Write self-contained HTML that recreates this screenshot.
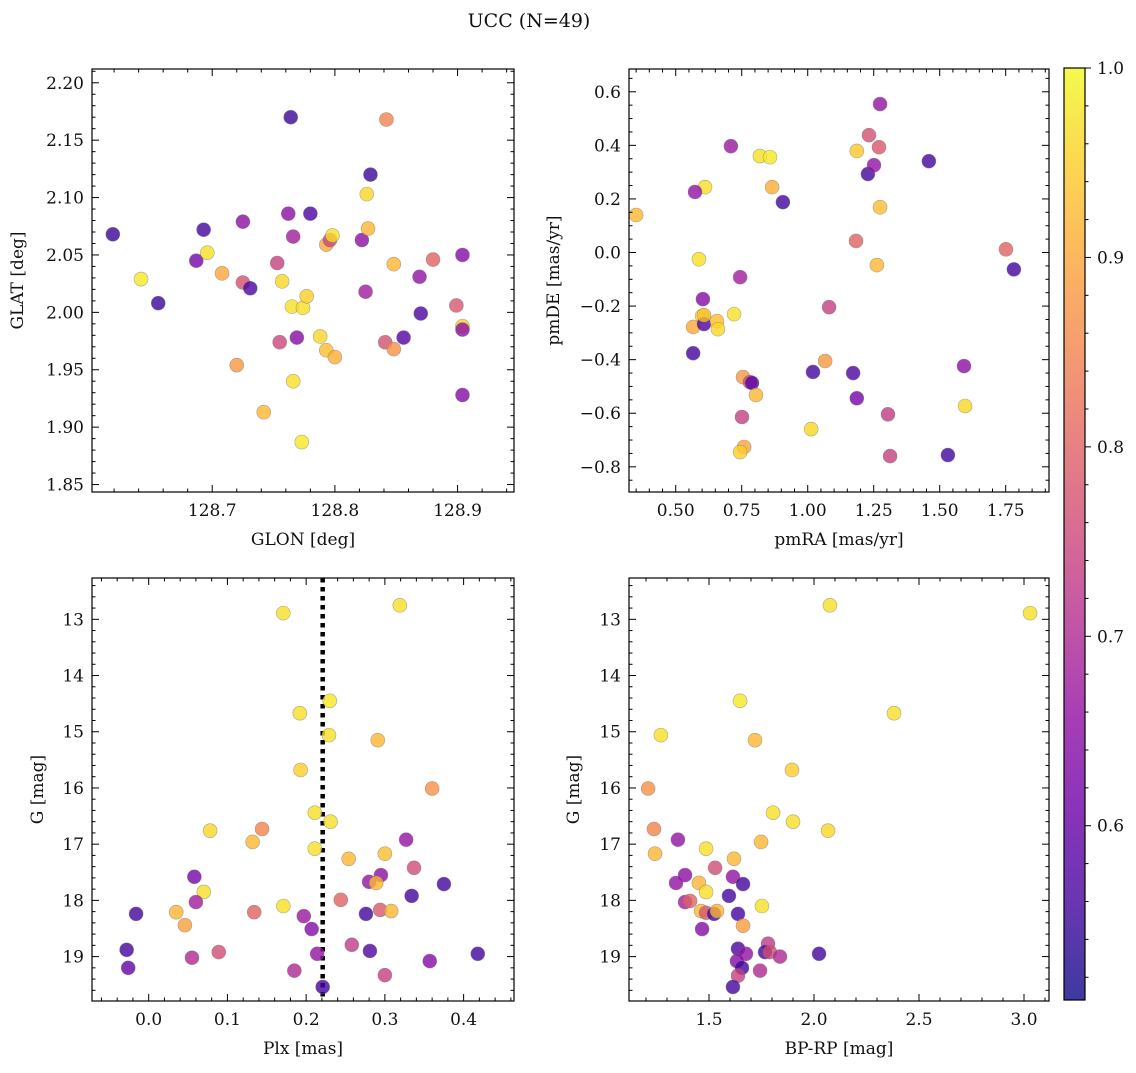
<!DOCTYPE html>
<html><head><meta charset="utf-8"><style>
body{margin:0;background:#fff}
svg text{font-family:"DejaVu Serif","Liberation Serif",serif;fill:#111}
</style></head><body>
<svg id="fig" width="1136" height="1068" viewBox="0 0 1136 1068" xmlns="http://www.w3.org/2000/svg">
<text x="529" y="27" font-size="19" text-anchor="middle">UCC (N=49)</text>
</svg>
<script>
// ---- data ----
const p1Glon=[128.619,128.642,128.656,128.687,128.693,128.696,128.708,128.720,128.725,128.725,128.731,128.742,128.753,128.755,128.757,128.762,128.764,128.765,128.766,128.766,128.769,128.773,128.774,128.777,128.780,128.788,128.793,128.793,128.796,128.798,128.800,128.822,128.825,128.826,128.827,128.829,128.841,128.842,128.848,128.848,128.856,128.869,128.870,128.880,128.899,128.904,128.904,128.904,128.904];
const p1Glat=[2.068,2.029,2.008,2.045,2.072,2.052,2.034,1.954,2.079,2.026,2.021,1.913,2.043,1.974,2.027,2.086,2.170,2.005,2.066,1.940,1.978,1.887,2.004,2.014,2.086,1.979,1.967,2.059,2.063,2.067,1.961,2.063,2.018,2.103,2.073,2.120,1.974,2.168,1.968,2.042,1.978,2.031,1.999,2.046,2.006,1.988,1.985,2.050,1.928];
const p1Prob=[.55,.98,.55,.62,.56,.97,.90,.88,.65,.77,.57,.92,.74,.75,.96,.65,.55,.97,.68,.97,.64,.98,.97,.95,.57,.96,.93,.90,.75,.97,.91,.65,.68,.96,.92,.55,.77,.85,.87,.92,.58,.66,.57,.80,.78,.95,.65,.64,.64];

const p2PmRA=[0.350,0.566,0.588,0.611,0.566,0.573,0.603,0.600,0.607,0.607,0.656,0.660,0.709,0.721,0.744,0.751,0.755,0.759,0.744,0.781,0.789,0.804,0.819,0.857,0.906,0.865,1.013,1.020,1.066,1.081,1.172,1.183,1.186,1.186,1.232,1.228,1.251,1.270,1.274,1.274,1.262,1.304,1.312,1.459,1.531,1.592,1.596,1.751,1.781];
const p2PmDE=[0.140,-0.376,-0.025,0.244,-0.278,0.226,-0.174,-0.237,-0.267,-0.234,-0.256,-0.286,0.397,-0.230,-0.092,-0.614,-0.465,-0.726,-0.745,-0.484,-0.487,-0.532,0.360,0.356,0.188,0.244,-0.659,-0.446,-0.405,-0.204,-0.450,0.043,0.379,-0.544,0.438,0.293,0.326,0.393,0.554,0.169,-0.047,-0.604,-0.760,0.341,-0.756,-0.424,-0.573,0.012,-0.063];
const p2Prob=[.92,.56,.97,.97,.90,.66,.64,.97,.57,.93,.93,.96,.67,.97,.68,.74,.88,.90,.95,.76,.58,.92,.97,.98,.56,.91,.96,.56,.88,.74,.57,.80,.94,.62,.77,.56,.66,.78,.66,.93,.92,.73,.74,.56,.56,.65,.96,.80,.56];

const p3Plx=[0.078,0.144,0.132,0.211,0.211,0.058,0.070,0.060,-0.016,0.035,0.046,0.134,0.171,0.197,-0.028,-0.026,0.055,0.089,0.185,0.360,0.231,0.327,0.254,0.300,0.337,0.295,0.280,0.289,0.375,0.334,0.244,0.276,0.294,0.308,0.207,0.258,0.281,0.214,0.357,0.418,0.300,0.221,0.171,0.319,0.230,0.192,0.229,0.291,0.193];
const p3G=[16.76,16.73,16.96,16.44,17.08,17.58,17.85,18.03,18.24,18.21,18.44,18.21,18.10,18.28,18.88,19.20,19.02,18.92,19.25,16.01,16.60,16.92,17.26,17.17,17.42,17.55,17.67,17.69,17.71,17.92,17.99,18.24,18.17,18.19,18.51,18.79,18.90,18.95,19.08,18.95,19.33,19.54,12.89,12.75,14.45,14.67,15.06,15.15,15.68];
const p3Prob=[.96,.85,.92,.97,.97,.62,.97,.68,.56,.92,.89,.80,.97,.67,.56,.60,.70,.76,.70,.87,.97,.66,.92,.93,.76,.65,.66,.92,.56,.56,.80,.56,.78,.92,.64,.73,.57,.66,.64,.56,.74,.56,.97,.97,.98,.97,.97,.92,.95];
const plxMedian=0.221;

const p4BpRp=[1.238,1.352,1.243,1.486,1.805,1.900,2.067,1.748,1.529,1.619,1.386,1.343,1.614,1.662,1.452,1.486,1.595,1.386,1.410,1.752,1.462,1.486,1.524,1.538,1.638,1.662,1.467,1.638,1.781,1.767,1.790,1.838,2.024,1.676,1.633,1.657,1.743,1.638,1.614,3.029,2.076,1.648,2.381,1.271,1.719,1.895,1.210];
const p4G=[16.73,16.92,17.17,17.08,16.44,16.60,16.76,16.96,17.42,17.26,17.55,17.69,17.58,17.71,17.69,17.85,17.92,18.03,18.01,18.10,18.19,18.22,18.24,18.19,18.24,18.45,18.51,18.86,18.77,18.92,18.92,19.00,18.95,18.95,19.08,19.20,19.25,19.34,19.54,12.89,12.75,14.45,14.67,15.06,15.15,15.68,16.01];
const p4Prob=[.85,.66,.92,.97,.97,.97,.96,.92,.76,.92,.65,.66,.66,.56,.92,.97,.56,.68,.80,.97,.92,.78,.56,.92,.56,.89,.64,.57,.73,.56,.76,.70,.56,.66,.64,.56,.70,.74,.56,.97,.97,.98,.97,.97,.92,.95,.87];

const cbTicks=[0.6,0.7,0.8,0.9,1.0];
const cMin=0.508,cMax=1.0;

// ---- helpers ----
const NS='http://www.w3.org/2000/svg';
const svg=document.getElementById('fig');
const FS=17;
function mk(tag,attrs,parent){const e=document.createElementNS(NS,tag);for(const k in attrs)e.setAttribute(k,attrs[k]);(parent||svg).appendChild(e);return e;}
const plasma=['#0d0887','#41049d','#6a00a8','#8f0da4','#b12a90','#cc4778','#e16462','#f2844b','#fca636','#fcce25','#f0f921'];
function hex(h){return [1,3,5].map(i=>parseInt(h.substr(i,2),16));}
function cmap(v){let t=(v-cMin)/(cMax-cMin);t=Math.max(0,Math.min(1,t));const f=t*10,i=Math.min(9,Math.floor(f)),r=f-i;const a=hex(plasma[i]),b=hex(plasma[i+1]);return 'rgb('+a.map((x,k)=>Math.round(x+(b[k]-x)*r)).join(',')+')';}
function fmt(v,d){let s=v.toFixed(d);if(s.startsWith('-')&&parseFloat(s)===0)s=s.slice(1);return s.replace('-','\u2212');}

function panel(cfg){
  const g=mk('g',{});
  
  
  const {L,T,R,B}=cfg;
  const sx=v=>L+(v-cfg.x0)/(cfg.x1-cfg.x0)*(R-L);
  const sy=cfg.yInv?(v=>T+(v-cfg.y0)/(cfg.y1-cfg.y0)*(B-T)):(v=>B-(v-cfg.y0)/(cfg.y1-cfg.y0)*(B-T));
  const clip='clip-'+cfg.name;
  const cp=mk('clipPath',{id:clip},g);mk('rect',{x:L,y:T,width:R-L,height:B-T},cp);
  const pts=mk('g',{'clip-path':'url(#'+clip+')'},g);
  if(cfg.vline!==undefined){
    const ln=mk('line',{x1:sx(cfg.vline),x2:sx(cfg.vline),y1:T,y2:B,stroke:'#000','stroke-width':4.5,'stroke-dasharray':'4.5 4.5'},pts);
    
    
  }
  for(let i=0;i<cfg.xs.length;i++){
    const c=mk('circle',{cx:sx(cfg.xs[i]),cy:sy(cfg.ys[i]),r:7,fill:cmap(cfg.cs[i]),'fill-opacity':0.8,stroke:'#777','stroke-opacity':0.6,'stroke-width':0.6},pts);
    
    
  }
  mk('rect',{x:L,y:T,width:R-L,height:B-T,fill:'none',stroke:'#000','stroke-width':1.2},g);
  const xmin=Math.min(cfg.x0,cfg.x1),xmax=Math.max(cfg.x0,cfg.x1);
  for(let v=Math.ceil(xmin/cfg.xm-1e-6)*cfg.xm;v<=xmax+1e-9;v+=cfg.xm){
    const x=sx(v);const major=Math.abs(v/cfg.xM-Math.round(v/cfg.xM))<1e-4;const len=major?7:3.5;
    mk('line',{x1:x,x2:x,y1:B,y2:B-len,stroke:'#000','stroke-width':1},g);
    mk('line',{x1:x,x2:x,y1:T,y2:T+len,stroke:'#000','stroke-width':1},g);
    if(major){const t=mk('text',{x:x,y:B+24,'font-size':FS,'text-anchor':'middle'},g);t.textContent=fmt(v,cfg.xd);}
  }
  const ymin=Math.min(cfg.y0,cfg.y1),ymax=Math.max(cfg.y0,cfg.y1);
  for(let v=Math.ceil(ymin/cfg.ym-1e-6)*cfg.ym;v<=ymax+1e-9;v+=cfg.ym){
    const y=sy(v);const major=Math.abs(v/cfg.yM-Math.round(v/cfg.yM))<1e-4;const len=major?7:3.5;
    mk('line',{x1:L,x2:L+len,y1:y,y2:y,stroke:'#000','stroke-width':1},g);
    mk('line',{x1:R,x2:R-len,y1:y,y2:y,stroke:'#000','stroke-width':1},g);
    if(major){const t=mk('text',{x:L-8,y:y+6,'font-size':FS,'text-anchor':'end'},g);t.textContent=fmt(v,cfg.yd);}
  }
  const xl=mk('text',{x:(L+R)/2,y:B+53,'font-size':FS,'text-anchor':'middle'},g);xl.textContent=cfg.xlabel;
  
  const yx=cfg.ylx, yy=(T+B)/2;
  const yl=mk('text',{x:yx,y:yy,'font-size':FS,'text-anchor':'middle',transform:'rotate(-90 '+yx+' '+yy+')'},g);yl.textContent=cfg.ylabel;
  
}

panel({name:'glon-glat-panel',L:92,T:69,R:514,B:492,x0:128.602,x1:128.946,y0:1.8435,y1:2.212,xm:0.02,xM:0.1,ym:0.01,yM:0.05,xd:1,yd:2,xs:p1Glon,ys:p1Glat,cs:p1Prob,xlabel:'GLON [deg]',ylabel:'GLAT [deg]',ylx:23});
panel({name:'pm-panel',L:629,T:69,R:1049,B:492,x0:0.323,x1:1.914,y0:-0.894,y1:0.685,xm:0.05,xM:0.25,ym:0.05,yM:0.2,xd:2,yd:1,xs:p2PmRA,ys:p2PmDE,cs:p2Prob,xlabel:'pmRA [mas/yr]',ylabel:'pmDE [mas/yr]',ylx:559});
panel({name:'plx-g-panel',L:92,T:578,R:514,B:1001,x0:-0.072,x1:0.464,y0:12.265,y1:19.79,yInv:true,xm:0.02,xM:0.1,ym:0.2,yM:1,xd:1,yd:0,xs:p3Plx,ys:p3G,cs:p3Prob,xlabel:'Plx [mas]',ylabel:'G [mag]',ylx:43,vline:plxMedian});
panel({name:'cmd-panel',L:629,T:578,R:1049,B:1001,x0:1.119,x1:3.119,y0:12.265,y1:19.79,yInv:true,xm:0.1,xM:0.5,ym:0.2,yM:1,xd:1,yd:0,xs:p4BpRp,ys:p4G,cs:p4Prob,xlabel:'BP-RP [mag]',ylabel:'G [mag]',ylx:579});

// colorbar
(function(){
  const g=mk('g',{});
  
  
  const L=1064,R=1085,T=68,B=1000;
  const defs=mk('defs',{},g);
  const lg=mk('linearGradient',{id:'cbg',x1:0,y1:1,x2:0,y2:0},defs);
  for(let i=0;i<=20;i++){const v=cMin+(cMax-cMin)*i/20;mk('stop',{offset:i/20,'stop-color':cmap(v),'stop-opacity':0.8},lg);}
  mk('rect',{x:L,y:T,width:R-L,height:B-T,fill:'url(#cbg)',stroke:'#000','stroke-width':1.2},g);
  const sy=v=>B-(v-cMin)/(cMax-cMin)*(B-T);
  for(let v=0.52;v<=1.0001;v+=0.02){
    const major=Math.abs(v*10-Math.round(v*10))<1e-4;const y=sy(v);
    mk('line',{x1:R,x2:R+(major?6:3.5),y1:y,y2:y,stroke:'#000','stroke-width':1},g);
  }
  cbTicks.forEach(v=>{const t=mk('text',{x:R+12,y:sy(v)+6,'font-size':FS},g);t.textContent=v.toFixed(1);});
})();
</script>
</body></html>
